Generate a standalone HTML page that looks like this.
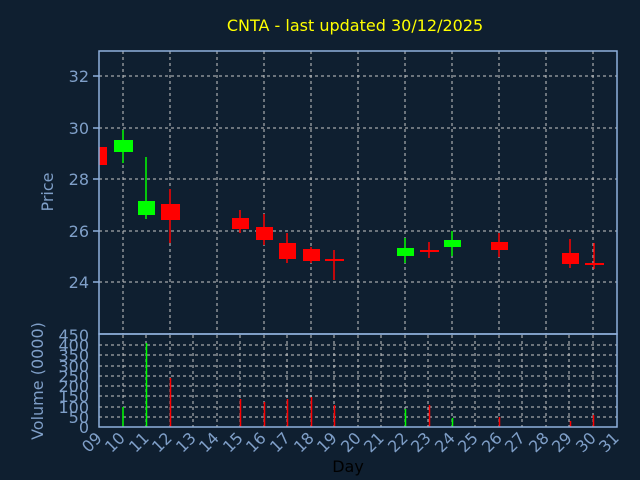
<!DOCTYPE html>
<html><head><meta charset="utf-8"><style>
html,body{margin:0;padding:0;background:#0f1f30;}
svg{display:block;font-family:"DejaVu Sans","Liberation Sans",sans-serif;}
.t{fill:#7f9fc8;font-size:16px;}
.g{stroke:#c8c8c8;stroke-width:1;stroke-dasharray:3,3;}
.ax{stroke:#8fb0dc;stroke-width:1.5;fill:none;}
</style></head><body>
<svg width="640" height="480" viewBox="0 0 640 480">
<rect width="640" height="480" fill="#0f1f30"/>
<text x="355" y="31" text-anchor="middle" fill="#ffff00" font-size="16">CNTA - last updated 30/12/2025</text>
<!-- price grid -->
<g class="g">
<line x1="99" x2="617" y1="76" y2="76"/><line x1="99" x2="617" y1="128" y2="128"/>
<line x1="99" x2="617" y1="179" y2="179"/><line x1="99" x2="617" y1="231" y2="231"/>
<line x1="99" x2="617" y1="282" y2="282"/>
<line x1="123" x2="123" y1="51" y2="334"/><line x1="170" x2="170" y1="51" y2="334"/>
<line x1="217" x2="217" y1="51" y2="334"/><line x1="264" x2="264" y1="51" y2="334"/>
<line x1="311" x2="311" y1="51" y2="334"/><line x1="358" x2="358" y1="51" y2="334"/>
<line x1="405" x2="405" y1="51" y2="334"/><line x1="452" x2="452" y1="51" y2="334"/>
<line x1="499" x2="499" y1="51" y2="334"/><line x1="546" x2="546" y1="51" y2="334"/>
<line x1="593" x2="593" y1="51" y2="334"/>
</g>
<!-- volume grid -->
<g class="g">
<line x1="99" x2="617" y1="345" y2="345"/><line x1="99" x2="617" y1="355" y2="355"/>
<line x1="99" x2="617" y1="366" y2="366"/><line x1="99" x2="617" y1="376" y2="376"/>
<line x1="99" x2="617" y1="386" y2="386"/><line x1="99" x2="617" y1="396" y2="396"/>
<line x1="99" x2="617" y1="407" y2="407"/><line x1="99" x2="617" y1="417" y2="417"/>
<line x1="123" x2="123" y1="335" y2="427"/><line x1="146" x2="146" y1="335" y2="427"/>
<line x1="170" x2="170" y1="335" y2="427"/><line x1="193" x2="193" y1="335" y2="427"/>
<line x1="217" x2="217" y1="335" y2="427"/><line x1="240" x2="240" y1="335" y2="427"/>
<line x1="264" x2="264" y1="335" y2="427"/><line x1="287" x2="287" y1="335" y2="427"/>
<line x1="311" x2="311" y1="335" y2="427"/><line x1="334" x2="334" y1="335" y2="427"/>
<line x1="358" x2="358" y1="335" y2="427"/><line x1="381" x2="381" y1="335" y2="427"/>
<line x1="405" x2="405" y1="335" y2="427"/><line x1="428" x2="428" y1="335" y2="427"/>
<line x1="452" x2="452" y1="335" y2="427"/><line x1="475" x2="475" y1="335" y2="427"/>
<line x1="499" x2="499" y1="335" y2="427"/><line x1="522" x2="522" y1="335" y2="427"/>
<line x1="546" x2="546" y1="335" y2="427"/><line x1="569" x2="569" y1="335" y2="427"/>
<line x1="593" x2="593" y1="335" y2="427"/>
</g>
<!-- candles -->
<g stroke-width="1.5">
<rect x="99" y="147" width="8" height="18" fill="#ff0000"/>
<line x1="123" x2="123" y1="130" y2="163" stroke="#00ff00"/><rect x="114" y="140" width="19" height="12" fill="#00ff00"/>
<line x1="146" x2="146" y1="157" y2="219" stroke="#00ff00"/><rect x="138" y="201" width="17" height="14" fill="#00ff00"/>
<line x1="170" x2="170" y1="189" y2="243" stroke="#ff0000"/><rect x="161" y="204" width="19" height="16" fill="#ff0000"/>
<line x1="240" x2="240" y1="210" y2="233" stroke="#ff0000"/><rect x="232" y="218" width="17" height="11" fill="#ff0000"/>
<line x1="264" x2="264" y1="214" y2="245" stroke="#ff0000"/><rect x="256" y="227" width="17" height="13" fill="#ff0000"/>
<line x1="287" x2="287" y1="233" y2="263" stroke="#ff0000"/><rect x="279" y="243" width="17" height="16" fill="#ff0000"/>
<line x1="311" x2="311" y1="247" y2="263" stroke="#ff0000"/><rect x="303" y="249" width="17" height="12" fill="#ff0000"/>
<line x1="334" x2="334" y1="250" y2="280" stroke="#ff0000"/><rect x="325" y="259" width="19" height="2" fill="#ff0000"/>
<line x1="405" x2="405" y1="238" y2="263" stroke="#00ff00"/><rect x="397" y="248" width="17" height="8" fill="#00ff00"/>
<line x1="429" x2="429" y1="242" y2="258" stroke="#ff0000"/><rect x="420" y="250" width="19" height="2" fill="#ff0000"/>
<line x1="452" x2="452" y1="231" y2="256" stroke="#00ff00"/><rect x="444" y="240" width="17" height="7" fill="#00ff00"/>
<line x1="499" x2="499" y1="233" y2="257" stroke="#ff0000"/><rect x="491" y="242" width="17" height="8" fill="#ff0000"/>
<line x1="570" x2="570" y1="239" y2="268" stroke="#ff0000"/><rect x="562" y="253" width="17" height="11" fill="#ff0000"/>
<line x1="594" x2="594" y1="243" y2="269" stroke="#ff0000"/><rect x="585" y="263" width="19" height="2" fill="#ff0000"/>
</g>
<!-- volume bars -->
<g stroke-width="1.5">
<line x1="123" x2="123" y1="407" y2="427" stroke="#00ff00"/>
<line x1="146.5" x2="146.5" y1="343" y2="427" stroke="#00ff00"/>
<line x1="170.5" x2="170.5" y1="378" y2="427" stroke="#ff0000"/>
<line x1="240.5" x2="240.5" y1="399" y2="427" stroke="#ff0000"/>
<line x1="264.5" x2="264.5" y1="402" y2="427" stroke="#ff0000"/>
<line x1="287.5" x2="287.5" y1="399" y2="427" stroke="#ff0000"/>
<line x1="311.5" x2="311.5" y1="397" y2="427" stroke="#ff0000"/>
<line x1="334.5" x2="334.5" y1="405" y2="427" stroke="#ff0000"/>
<line x1="405.5" x2="405.5" y1="409" y2="427" stroke="#00ff00"/>
<line x1="429.5" x2="429.5" y1="405" y2="427" stroke="#ff0000"/>
<line x1="452.5" x2="452.5" y1="418" y2="427" stroke="#00ff00"/>
<line x1="499.5" x2="499.5" y1="417" y2="427" stroke="#ff0000"/>
<line x1="570.5" x2="570.5" y1="421" y2="427" stroke="#ff0000"/>
<line x1="593.5" x2="593.5" y1="415" y2="427" stroke="#ff0000"/>
</g>
<!-- axes -->
<rect class="ax" x="99" y="51" width="518" height="283"/>
<rect class="ax" x="99" y="334" width="518" height="93"/>
<g stroke="#8fb0dc" stroke-width="1.5">
<line x1="93" x2="99" y1="76" y2="76"/><line x1="93" x2="99" y1="128" y2="128"/>
<line x1="93" x2="99" y1="179" y2="179"/><line x1="93" x2="99" y1="231" y2="231"/>
<line x1="93" x2="99" y1="282" y2="282"/>
</g>
<g class="t" text-anchor="end">
<text x="89" y="82">32</text><text x="89" y="134">30</text><text x="89" y="185">28</text>
<text x="89" y="237">26</text><text x="89" y="288">24</text>
<text x="89" y="341">450</text><text x="89" y="351">400</text><text x="89" y="361">350</text>
<text x="89" y="372">300</text><text x="89" y="382">250</text><text x="89" y="392">200</text>
<text x="89" y="402">150</text><text x="89" y="413">100</text><text x="89" y="423">50</text>
<text x="89" y="433">0</text>
</g>
<text class="t" transform="translate(53,192) rotate(-90)" text-anchor="middle">Price</text>
<text class="t" transform="translate(43,381) rotate(-90)" text-anchor="middle">Volume (0000)</text>
<g class="t" text-anchor="end">
<text transform="translate(103,439) rotate(-45)">09</text>
<text transform="translate(126,439) rotate(-45)">10</text>
<text transform="translate(150,439) rotate(-45)">11</text>
<text transform="translate(173,439) rotate(-45)">12</text>
<text transform="translate(197,439) rotate(-45)">13</text>
<text transform="translate(220,439) rotate(-45)">14</text>
<text transform="translate(244,439) rotate(-45)">15</text>
<text transform="translate(267,439) rotate(-45)">16</text>
<text transform="translate(291,439) rotate(-45)">17</text>
<text transform="translate(315,439) rotate(-45)">18</text>
<text transform="translate(338,439) rotate(-45)">19</text>
<text transform="translate(362,439) rotate(-45)">20</text>
<text transform="translate(385,439) rotate(-45)">21</text>
<text transform="translate(409,439) rotate(-45)">22</text>
<text transform="translate(432,439) rotate(-45)">23</text>
<text transform="translate(456,439) rotate(-45)">24</text>
<text transform="translate(479,439) rotate(-45)">25</text>
<text transform="translate(503,439) rotate(-45)">26</text>
<text transform="translate(526,439) rotate(-45)">27</text>
<text transform="translate(550,439) rotate(-45)">28</text>
<text transform="translate(573,439) rotate(-45)">29</text>
<text transform="translate(597,439) rotate(-45)">30</text>
<text transform="translate(620,439) rotate(-45)">31</text>
</g>
<text x="348" y="472" text-anchor="middle" font-size="16" fill="#000">Day</text>
</svg>
</body></html>
